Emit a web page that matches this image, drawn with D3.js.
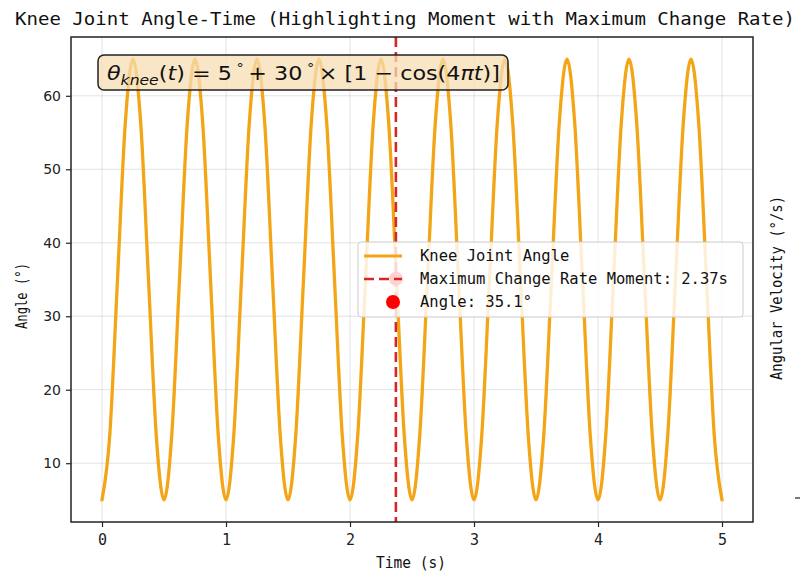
<!DOCTYPE html>
<html>
<head>
<meta charset="utf-8">
<script src="https://cdn.jsdelivr.net/npm/d3@7"></script>
<style>
  body { margin: 0; background: #fff; }
  svg { display: block; }
  .mono { font-family: "DejaVu Sans Mono", "Liberation Mono", monospace; fill: #111; }
  .ytick text { font-family: "DejaVu Sans", sans-serif; font-size: 14px; fill: #222; }
  .xtick text { font-family: "DejaVu Sans Mono", monospace; font-size: 15px; fill: #222; }
</style>
</head>
<body>
<svg id="chart" width="801" height="571"></svg>
<script>
var sampleStep = 0.0625;
var angleValues = [
  5, 13.8, 35, 56.2, 65, 56.2, 35, 13.8,
  5, 13.8, 35, 56.2, 65, 56.2, 35, 13.8,
  5, 13.8, 35, 56.2, 65, 56.2, 35, 13.8,
  5, 13.8, 35, 56.2, 65, 56.2, 35, 13.8,
  5, 13.8, 35, 56.2, 65, 56.2, 35, 13.8,
  5, 13.8, 35, 56.2, 65, 56.2, 35, 13.8,
  5, 13.8, 35, 56.2, 65, 56.2, 35, 13.8,
  5, 13.8, 35, 56.2, 65, 56.2, 35, 13.8,
  5, 13.8, 35, 56.2, 65, 56.2, 35, 13.8,
  5, 13.8, 35, 56.2, 65, 56.2, 35, 13.8,
  5
];
var xTicks = [0, 1, 2, 3, 4, 5];
var yTicks = [10, 20, 30, 40, 50, 60];
var maxRateTime = 2.37;
var maxRateAngle = 35.1;
var legendLabels = ['Knee Joint Angle', 'Maximum Change Rate Moment: 2.37s', 'Angle: 35.1\u00b0'];

var frame = { left: 71, right: 753, top: 37, bottom: 522 };
var orange = '#f4a516', red = '#d62728';

var svg = d3.select('#chart');
var x = d3.scaleLinear().domain([-0.25, 5.25]).range([frame.left, frame.right]);
var y = d3.scaleLinear().domain([2, 68]).range([frame.bottom, frame.top]);

var points = angleValues.map((v, i) => ({ t: i * sampleStep, a: v }));

// grid
var grid = svg.append('g').attr('stroke', '#b0b0b0').attr('stroke-opacity', 0.45).attr('stroke-width', 0.8);
xTicks.forEach(t => grid.append('line').attr('x1', x(t)).attr('x2', x(t)).attr('y1', frame.top).attr('y2', frame.bottom));
yTicks.forEach(v => grid.append('line').attr('x1', frame.left).attr('x2', frame.right).attr('y1', y(v)).attr('y2', y(v)));

// curve
svg.append('path')
  .datum(points)
  .attr('fill', 'none')
  .attr('stroke', orange)
  .attr('stroke-width', 3.3)
  .attr('stroke-linecap', 'round')
  .attr('d', d3.line().x(d => x(d.t)).y(d => y(d.a)).curve(d3.curveMonotoneX));

// max change rate line + point
svg.append('line')
  .attr('x1', x(maxRateTime)).attr('x2', x(maxRateTime))
  .attr('y1', frame.top).attr('y2', frame.bottom)
  .attr('stroke', red).attr('stroke-width', 2.6).attr('stroke-dasharray', '10,5');
svg.append('circle')
  .attr('cx', x(maxRateTime)).attr('cy', y(maxRateAngle)).attr('r', 7)
  .attr('fill', '#ff0000');

// axes
var xAxis = svg.append('g').attr('class', 'xtick')
  .attr('transform', 'translate(0,' + frame.bottom + ')')
  .call(d3.axisBottom(x).tickValues(xTicks).tickSize(5).tickPadding(7).tickFormat(d3.format('d')));
var yAxis = svg.append('g').attr('class', 'ytick')
  .attr('transform', 'translate(' + frame.left + ',0)')
  .call(d3.axisLeft(y).tickValues(yTicks).tickSize(5).tickPadding(5));
[xAxis, yAxis].forEach(a => {
  a.select('.domain').remove();
  a.selectAll('line').attr('stroke', '#222').attr('stroke-width', 1.2);
});

svg.append('rect')
  .attr('x', frame.left).attr('y', frame.top)
  .attr('width', frame.right - frame.left).attr('height', frame.bottom - frame.top)
  .attr('fill', 'none').attr('stroke', '#222').attr('stroke-width', 1.5);

// stray twin-axis tick
svg.append('line').attr('x1', 795).attr('x2', 800).attr('y1', 498).attr('y2', 498)
  .attr('stroke', '#222').attr('stroke-width', 1.2);

// labels
svg.append('text').attr('class', 'mono')
  .attr('x', 405).attr('y', 25).attr('text-anchor', 'middle')
  .style('font-size', '18.5px')
  .attr('textLength', 780).attr('lengthAdjust', 'spacingAndGlyphs')
  .text('Knee Joint Angle-Time (Highlighting Moment with Maximum Change Rate)');

svg.append('text').attr('class', 'mono')
  .attr('x', 411).attr('y', 568).attr('text-anchor', 'middle')
  .style('font-size', '15px')
  .attr('textLength', 70).attr('lengthAdjust', 'spacingAndGlyphs')
  .text('Time (s)');

svg.append('text').attr('class', 'mono')
  .attr('transform', 'translate(27,296) rotate(-90)').attr('text-anchor', 'middle')
  .style('font-size', '15px')
  .attr('textLength', 66).attr('lengthAdjust', 'spacingAndGlyphs')
  .text('Angle (\u00b0)');

svg.append('text').attr('class', 'mono')
  .attr('transform', 'translate(782,288) rotate(-90)').attr('text-anchor', 'middle')
  .style('font-size', '15px')
  .attr('textLength', 184).attr('lengthAdjust', 'spacingAndGlyphs')
  .text('Angular Velocity (\u00b0/s)');

// formula box
var fbox = svg.append('g');
fbox.append('rect')
  .attr('x', 98).attr('y', 55).attr('width', 410).attr('height', 35).attr('rx', 6)
  .attr('fill', '#f5deb3').attr('fill-opacity', 0.75)
  .attr('stroke', '#222').attr('stroke-width', 1.5);
var ftext = fbox.append('text')
  .attr('x', 107).attr('y', 80)
  .attr('textLength', 393).attr('lengthAdjust', 'spacingAndGlyphs')
  .style('font-family', '"DejaVu Sans", sans-serif').style('font-size', '20px').style('fill', '#111');
ftext.append('tspan').style('font-style', 'italic').text('\u03b8');
ftext.append('tspan').style('font-style', 'italic').style('font-size', '14px').attr('dy', 5).text('knee');
ftext.append('tspan').attr('dy', -5).text('(');
ftext.append('tspan').style('font-style', 'italic').text('t');
ftext.append('tspan').text(') = 5');
ftext.append('tspan').style('font-size', '13px').attr('dy', -8).text(' \u00b0 ');
ftext.append('tspan').attr('dy', 8).text(' + 30');
ftext.append('tspan').style('font-size', '13px').attr('dy', -8).text(' \u00b0 ');
ftext.append('tspan').attr('dy', 8).text(' \u00d7 [1 \u2212 cos(4');
ftext.append('tspan').style('font-style', 'italic').text('\u03c0t');
ftext.append('tspan').text(')]');

// legend
var legend = svg.append('g').attr('transform', 'translate(358,242)');
legend.append('rect')
  .attr('width', 385).attr('height', 75).attr('rx', 3)
  .attr('fill', '#fff').attr('fill-opacity', 0.82)
  .attr('stroke', '#cccccc').attr('stroke-width', 1);
var rowY = [14, 37, 60];
legend.append('line').attr('x1', 6).attr('x2', 44).attr('y1', rowY[0]).attr('y2', rowY[0])
  .attr('stroke', orange).attr('stroke-width', 3);
legend.append('line').attr('x1', 6).attr('x2', 44).attr('y1', rowY[1]).attr('y2', rowY[1])
  .attr('stroke', red).attr('stroke-width', 2.6).attr('stroke-dasharray', '10,5');
legend.append('circle').attr('cx', 35).attr('cy', rowY[2]).attr('r', 7).attr('fill', '#ff0000');
legendLabels.forEach((l, i) => legend.append('text').attr('class', 'mono')
  .attr('x', 62).attr('y', rowY[i] + 5)
  .style('font-size', '15.5px')
  .text(l));
</script>
</body>
</html>
